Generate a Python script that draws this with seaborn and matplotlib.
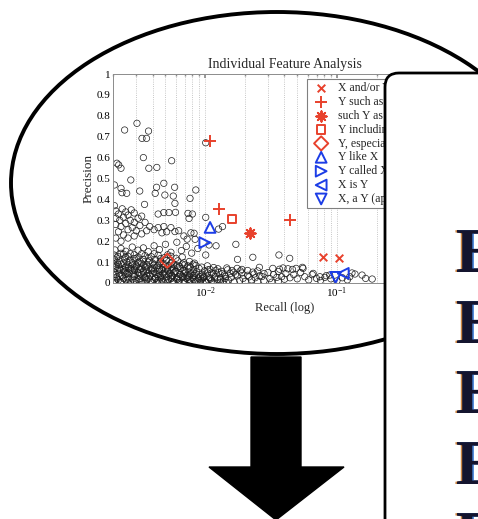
import numpy as np
import pandas as pd
import matplotlib
matplotlib.use("Agg")
import matplotlib.pyplot as plt
import matplotlib.patheffects as pe
import seaborn as sns
from matplotlib.patches import Ellipse, FancyBboxPatch, Polygon

# ---- data ----
pattern_labels = ["X and/or Y", "Y such as X", "such Y as X", "Y including X",
                  "Y, especially X", "Y like X", "Y called X", "X is Y",
                  "X, a Y (appositive)"]
pattern_recall = [[0.0778, 0.1036], [0.0109, 0.0128, 0.0443], [0.0219], [0.0159],
                  [0.00516], [0.0109], [0.00994], [0.1117], [0.0977]]
pattern_precision = [[0.123, 0.118], [0.681, 0.352, 0.301], [0.241], [0.308],
                     [0.107], [0.266], [0.193], [0.046], [0.027]]

# other patterns: scattered upper points
upper_points = [
    (0.00245, 0.732), (0.00304, 0.764), (0.00332, 0.692), (0.00359, 0.692), (0.00372, 0.727),
    (0.0034, 0.600), (0.00374, 0.549), (0.0043, 0.553), (0.00557, 0.585),
    (0.00214, 0.573), (0.00221, 0.565), (0.0023, 0.549), (0.00205, 0.469), (0.00273, 0.493),
    (0.0023, 0.453), (0.00234, 0.432), (0.00254, 0.429), (0.00319, 0.440), (0.00347, 0.376),
    (0.00428, 0.458), (0.00418, 0.429), (0.00486, 0.477), (0.00495, 0.421),
    (0.00587, 0.458), (0.00573, 0.416), (0.0059, 0.381), (0.00768, 0.405), (0.0085, 0.445),
    (0.0101, 0.671), (0.00741, 0.333), (0.0080, 0.330), (0.00755, 0.309), (0.0101, 0.314),
    (0.0044, 0.330), (0.00486, 0.337), (0.00531, 0.337), (0.00596, 0.338), (0.0059, 0.246),
    (0.00486, 0.270), (0.00824, 0.238), (0.00839, 0.209), (0.01265, 0.258), (0.01355, 0.270),
    (0.0107, 0.182), (0.0121, 0.178), (0.0171, 0.185), (0.0176, 0.113), (0.0101, 0.134),
    (0.0230, 0.123), (0.0363, 0.134), (0.0438, 0.118), (0.0547, 0.075),
]

# left cluster between 0.2 and 0.37
left_points = [
    (0.00205, 0.370), (0.0021, 0.345), (0.0022, 0.330), (0.00235, 0.355), (0.0025, 0.340),
    (0.0021, 0.310), (0.00225, 0.300), (0.0024, 0.315), (0.0026, 0.325), (0.00275, 0.350),
    (0.0029, 0.335), (0.0021, 0.280), (0.0023, 0.270), (0.0025, 0.285), (0.0027, 0.300),
    (0.0029, 0.290), (0.0031, 0.310), (0.0033, 0.320), (0.0022, 0.245), (0.0024, 0.230),
    (0.0026, 0.255), (0.0028, 0.265), (0.0030, 0.250), (0.0032, 0.275), (0.0035, 0.290),
    (0.0021, 0.215), (0.0023, 0.200), (0.0026, 0.215), (0.0029, 0.225), (0.0033, 0.235),
    (0.0036, 0.250), (0.0038, 0.270), (0.0041, 0.255), (0.0044, 0.265), (0.0047, 0.240),
    (0.0051, 0.245), (0.0055, 0.265), (0.0063, 0.250), (0.0069, 0.225), (0.0073, 0.210),
    (0.0078, 0.240),
]

# dense band near zero precision
band_points = [
    (0.00205, 0.012), (0.00228, 0.006), (0.0025, 0.015), (0.00272, 0.004), (0.0030, 0.011),
    (0.0033, 0.007), (0.0036, 0.016), (0.0040, 0.005), (0.0044, 0.013), (0.0048, 0.008),
    (0.0053, 0.017), (0.0058, 0.006), (0.0064, 0.012), (0.0070, 0.004), (0.0077, 0.014),
    (0.0085, 0.008), (0.0093, 0.015), (0.0102, 0.005), (0.0112, 0.011), (0.0124, 0.017),
    (0.0137, 0.007), (0.0150, 0.013), (0.0166, 0.005), (0.0183, 0.012), (0.0202, 0.008),
    (0.0225, 0.015), (0.0250, 0.006), (0.0280, 0.011), (0.0320, 0.004), (0.0360, 0.009),
    (0.00215, 0.020), (0.0024, 0.022), (0.0028, 0.019), (0.0032, 0.021), (0.0037, 0.020),
    (0.0042, 0.022), (0.0047, 0.019), (0.0055, 0.021), (0.0062, 0.020), (0.0072, 0.022),
    (0.0082, 0.018), (0.0095, 0.021), (0.0110, 0.019),
    (0.00212, 0.028), (0.00235, 0.034), (0.0026, 0.025), (0.0029, 0.031), (0.0031, 0.037),
    (0.0035, 0.027), (0.0038, 0.033), (0.0042, 0.024), (0.0046, 0.036), (0.0051, 0.029),
    (0.0056, 0.034), (0.0061, 0.025), (0.0067, 0.032), (0.0074, 0.027), (0.0081, 0.036),
    (0.0089, 0.023), (0.0098, 0.030), (0.0108, 0.026), (0.0119, 0.033), (0.0131, 0.024),
    (0.0143, 0.031), (0.0158, 0.027), (0.0175, 0.034), (0.0194, 0.022), (0.0215, 0.029),
    (0.0240, 0.025), (0.0270, 0.031), (0.0310, 0.021), (0.0350, 0.027), (0.0400, 0.018),
    (0.0021, 0.040), (0.0025, 0.041), (0.0029, 0.039), (0.0033, 0.041), (0.0038, 0.038),
    (0.0043, 0.040), (0.0049, 0.039), (0.0056, 0.037), (0.0064, 0.040), (0.0073, 0.036),
    (0.0083, 0.038), (0.0096, 0.035),
    (0.00203, 0.052), (0.00222, 0.046), (0.00243, 0.055), (0.00265, 0.048), (0.0028, 0.058),
    (0.0032, 0.044), (0.0034, 0.053), (0.0037, 0.047), (0.0041, 0.056), (0.0045, 0.043),
    (0.0049, 0.052), (0.0054, 0.046), (0.0059, 0.055), (0.0065, 0.042), (0.0071, 0.050),
    (0.0078, 0.045), (0.0086, 0.053), (0.0095, 0.041), (0.0104, 0.048), (0.0115, 0.043),
    (0.0127, 0.050), (0.0140, 0.039), (0.0155, 0.046), (0.0170, 0.041), (0.0190, 0.048),
    (0.0210, 0.037), (0.0235, 0.043), (0.0260, 0.035),
    (0.00215, 0.061), (0.0025, 0.059), (0.0029, 0.062), (0.0034, 0.058), (0.0039, 0.060),
    (0.0045, 0.057), (0.0052, 0.059), (0.0060, 0.055), (0.0070, 0.057), (0.0081, 0.052),
    (0.00208, 0.072), (0.00226, 0.066), (0.00248, 0.075), (0.0027, 0.068), (0.0029, 0.077),
    (0.0032, 0.065), (0.0035, 0.073), (0.0039, 0.067), (0.0043, 0.076), (0.0047, 0.063),
    (0.0052, 0.071), (0.0057, 0.066), (0.0062, 0.074), (0.0068, 0.061), (0.0075, 0.069),
    (0.0082, 0.063), (0.0090, 0.070), (0.0099, 0.058), (0.0109, 0.065), (0.0120, 0.060),
    (0.0133, 0.056), (0.0148, 0.063), (0.0165, 0.052), (0.0185, 0.058),
    (0.00212, 0.081), (0.0025, 0.079), (0.0030, 0.077), (0.0035, 0.080), (0.0041, 0.075),
    (0.0048, 0.073), (0.0056, 0.076), (0.0065, 0.070),
    (0.00201, 0.092), (0.0022, 0.087), (0.0024, 0.095), (0.0026, 0.088), (0.0028, 0.097),
    (0.0030, 0.085), (0.0033, 0.093), (0.0036, 0.086), (0.0040, 0.095), (0.0044, 0.084),
    (0.0048, 0.091), (0.0053, 0.083), (0.0058, 0.089), (0.0064, 0.080), (0.0070, 0.087),
    (0.0077, 0.078), (0.0085, 0.084), (0.0094, 0.076), (0.0104, 0.082), (0.0116, 0.074),
    (0.00206, 0.112), (0.00224, 0.106), (0.00245, 0.115), (0.00268, 0.108), (0.0029, 0.117),
    (0.0032, 0.104), (0.0034, 0.113), (0.0038, 0.106), (0.0042, 0.112), (0.0046, 0.103),
    (0.0051, 0.109), (0.0056, 0.100), (0.0062, 0.106), (0.0069, 0.097), (0.0076, 0.103),
    (0.0083, 0.095),
    (0.00204, 0.134), (0.00218, 0.127), (0.0024, 0.138), (0.0026, 0.128), (0.0029, 0.135),
    (0.0031, 0.124), (0.0035, 0.131), (0.0039, 0.126), (0.0044, 0.133), (0.0049, 0.121),
    (0.0055, 0.128), (0.0060, 0.118), (0.0067, 0.124),
    (0.00207, 0.158), (0.0023, 0.165), (0.0025, 0.152), (0.0028, 0.172), (0.0031, 0.157),
    (0.0034, 0.168), (0.0037, 0.150), (0.0041, 0.178), (0.0045, 0.160), (0.0050, 0.185),
    (0.0055, 0.147), (0.0061, 0.195), (0.0066, 0.155), (0.0072, 0.175), (0.0079, 0.143),
    (0.0088, 0.165),
]

# more of the same band, filling the gaps
band_fill_points = [
    (0.00208, 0.003), (0.0023, 0.002), (0.0026, 0.003), (0.0029, 0.002), (0.0032, 0.003),
    (0.0035, 0.002), (0.0039, 0.003), (0.0043, 0.002), (0.0047, 0.003), (0.0052, 0.002),
    (0.0057, 0.003), (0.0063, 0.002), (0.0069, 0.003), (0.0076, 0.002), (0.0083, 0.003),
    (0.0092, 0.002), (0.0100, 0.003), (0.0115, 0.002), (0.0130, 0.003), (0.0145, 0.002),
    (0.0022, 0.014), (0.0026, 0.018), (0.0031, 0.015), (0.0035, 0.024), (0.0041, 0.016),
    (0.0046, 0.026), (0.0050, 0.014), (0.0056, 0.025), (0.0061, 0.016), (0.0068, 0.027),
    (0.0074, 0.016), (0.0081, 0.025), (0.0088, 0.013), (0.0097, 0.025), (0.0106, 0.015),
    (0.0118, 0.024), (0.0130, 0.016), (0.0142, 0.022),
    (0.00225, 0.033), (0.00255, 0.047), (0.00285, 0.043), (0.0031, 0.050), (0.0036, 0.035),
    (0.0040, 0.046), (0.0044, 0.031), (0.0048, 0.045), (0.0053, 0.038), (0.0058, 0.048),
    (0.0063, 0.030), (0.0069, 0.044), (0.0076, 0.034), (0.0084, 0.045), (0.0092, 0.030),
    (0.00222, 0.068), (0.0024, 0.063), (0.00262, 0.071), (0.0029, 0.066), (0.0033, 0.070),
    (0.0036, 0.062), (0.0040, 0.069), (0.0045, 0.065), (0.0050, 0.067), (0.0055, 0.061),
    (0.00215, 0.100), (0.0023, 0.090), (0.00255, 0.101), (0.0028, 0.086), (0.0031, 0.098),
    (0.0034, 0.088), (0.0037, 0.100), (0.0041, 0.087), (0.0045, 0.096), (0.0050, 0.086),
    (0.0055, 0.094), (0.0061, 0.084), (0.0067, 0.090), (0.0074, 0.082), (0.0081, 0.090),
    (0.00212, 0.120), (0.0023, 0.142), (0.0025, 0.125), (0.0027, 0.140), (0.0030, 0.118),
    (0.0033, 0.140), (0.0037, 0.118), (0.0041, 0.140), (0.0046, 0.117), (0.0052, 0.135),
]

# thin tail towards higher recall
tail_points = [
    (0.0105, 0.063), (0.0112, 0.048), (0.0125, 0.068), (0.0135, 0.045), (0.0146, 0.072),
    (0.0160, 0.060), (0.0175, 0.070), (0.0190, 0.065), (0.0210, 0.060), (0.0230, 0.052),
    (0.0250, 0.058), (0.0258, 0.075), (0.0280, 0.045), (0.0300, 0.050), (0.0326, 0.070),
    (0.0330, 0.040), (0.0360, 0.055), (0.0367, 0.066), (0.0380, 0.030), (0.0390, 0.072),
    (0.0410, 0.045), (0.0425, 0.068), (0.0440, 0.025), (0.0460, 0.065), (0.0470, 0.040),
    (0.0490, 0.070), (0.0500, 0.020), (0.0530, 0.050), (0.0553, 0.070), (0.0570, 0.030),
    (0.0610, 0.015), (0.0650, 0.040), (0.0660, 0.046), (0.0700, 0.022), (0.0742, 0.030),
    (0.0750, 0.012), (0.0810, 0.027), (0.0830, 0.035), (0.0880, 0.038), (0.0900, 0.020),
    (0.1000, 0.010), (0.1100, 0.025), (0.1200, 0.015), (0.1250, 0.030), (0.1300, 0.048),
    (0.1370, 0.043), (0.1550, 0.038), (0.1650, 0.022), (0.1850, 0.019),
]

y_ticks = [0, 0.1, 0.2, 0.3, 0.4, 0.5, 0.6, 0.7, 0.8, 0.9, 1]
y_tick_labels = ["0", "0.1", "0.2", "0.3", "0.4", "0.5", "0.6", "0.7", "0.8", "0.9", "1"]

# ---- styles ----
RED = "#e8412c"
BLUE = "#1c3de6"
# (marker, colour, size, filled-outline?)
marker_styles = [("x", RED, 30, False), ("+", RED, 70, False), ((8, 2, 0), RED, 55, False),
                 ("s", RED, 34, True), ("D", RED, 52, True), ("^", BLUE, 60, True),
                 (">", BLUE, 60, True), ("<", BLUE, 60, True), ("v", BLUE, 60, True)]

sns.set_theme(style="white")
plt.rcParams["font.family"] = ["Liberation Serif", "DejaVu Serif"]
plt.rcParams["mathtext.fontset"] = "stix"

W, H = 478, 519
fig = plt.figure(figsize=(W / 100, H / 100), dpi=100)
fig.patch.set_facecolor("white")
ax = fig.add_axes([113 / W, 1 - 283 / H, (456 - 113) / W, (283 - 74) / H])

others = pd.DataFrame(upper_points + left_points + band_points + band_fill_points + tail_points,
                      columns=["recall", "precision"])
sns.scatterplot(data=others, x="recall", y="precision", marker="o", s=21,
                facecolor="none", edgecolor="#1e1e1e", linewidth=0.5,
                ax=ax, zorder=2, legend=False)

for label, rec, prec, (mk, col, size, outline) in zip(pattern_labels, pattern_recall,
                                                      pattern_precision, marker_styles):
    df = pd.DataFrame({"recall": rec, "precision": prec})
    if outline:
        sns.scatterplot(data=df, x="recall", y="precision", marker=mk, s=size,
                        facecolor="none", edgecolor=col, linewidth=1.4,
                        label=label, ax=ax, zorder=3)
    else:
        sns.scatterplot(data=df, x="recall", y="precision", marker=mk, s=size,
                        color=col, linewidth=1.4, label=label, ax=ax, zorder=3)

ax.set_xscale("log")
ax.set_xlim(2e-3, 0.8)
ax.set_ylim(0, 1)
ax.set_yticks(y_ticks)
ax.set_yticklabels(y_tick_labels)
ax.grid(True, which="both", axis="x", linestyle=":", color="#b4b4b4", linewidth=0.6)
ax.tick_params(which="both", direction="in", top=True, right=True, colors="#8c8c8c",
               labelcolor="black", labelsize=8, pad=2)
ax.tick_params(which="major", length=3)
ax.tick_params(which="minor", length=1.5)
for sp in ax.spines.values():
    sp.set_color("#8c8c8c")
    sp.set_linewidth(0.7)
ax.set_title("Individual Feature Analysis", fontsize=10, pad=4.5)
ax.set_xlabel("Recall (log)", fontsize=9, labelpad=1)
ax.set_ylabel("Precision", fontsize=9.5, labelpad=1)

leg = ax.legend(loc="upper left", bbox_to_anchor=(307 / W, 1 - 79 / H),
                bbox_transform=fig.transFigure, fontsize=8.5, frameon=True,
                fancybox=False, edgecolor="#808080", framealpha=1, borderaxespad=0,
                borderpad=0.25, labelspacing=0.16, handlelength=1.9, handletextpad=0.45,
                scatterpoints=1)
leg.get_frame().set_linewidth(0.8)

# ---- overlay drawing: ellipse callout, arrow and the next panel ----
over = fig.add_axes([0, 0, 1, 1], zorder=10)
over.set_xlim(0, W)
over.set_ylim(H, 0)
over.axis("off")
over.patch.set_alpha(0)
over.add_patch(Ellipse((277, 183), 532, 342, fill=False, lw=2.8, ec="black"))
over.add_patch(Polygon([(251, 357), (301, 357), (301, 467), (344, 467), (276, 520),
                        (209, 467), (251, 467)], closed=True, fc="black", ec="black"))
over.add_patch(FancyBboxPatch((385, 73), 200, 500,
                              boxstyle="round,pad=0,rounding_size=14",
                              fc="white", ec="black", lw=2.0))
fringe = [pe.withSimplePatchShadow(offset=(-1.2, 0), shadow_rgbFace="#c8782c", alpha=0.9),
          pe.withSimplePatchShadow(offset=(1.2, 0), shadow_rgbFace="#3c7cd6", alpha=0.9)]
for base in [272, 343, 413, 484, 555]:
    over.text(456, base, "E", fontsize=46, fontweight="bold", color="#14142e",
              va="baseline", ha="left", path_effects=fringe)

fig.savefig("out.png", dpi=100, facecolor="white")
